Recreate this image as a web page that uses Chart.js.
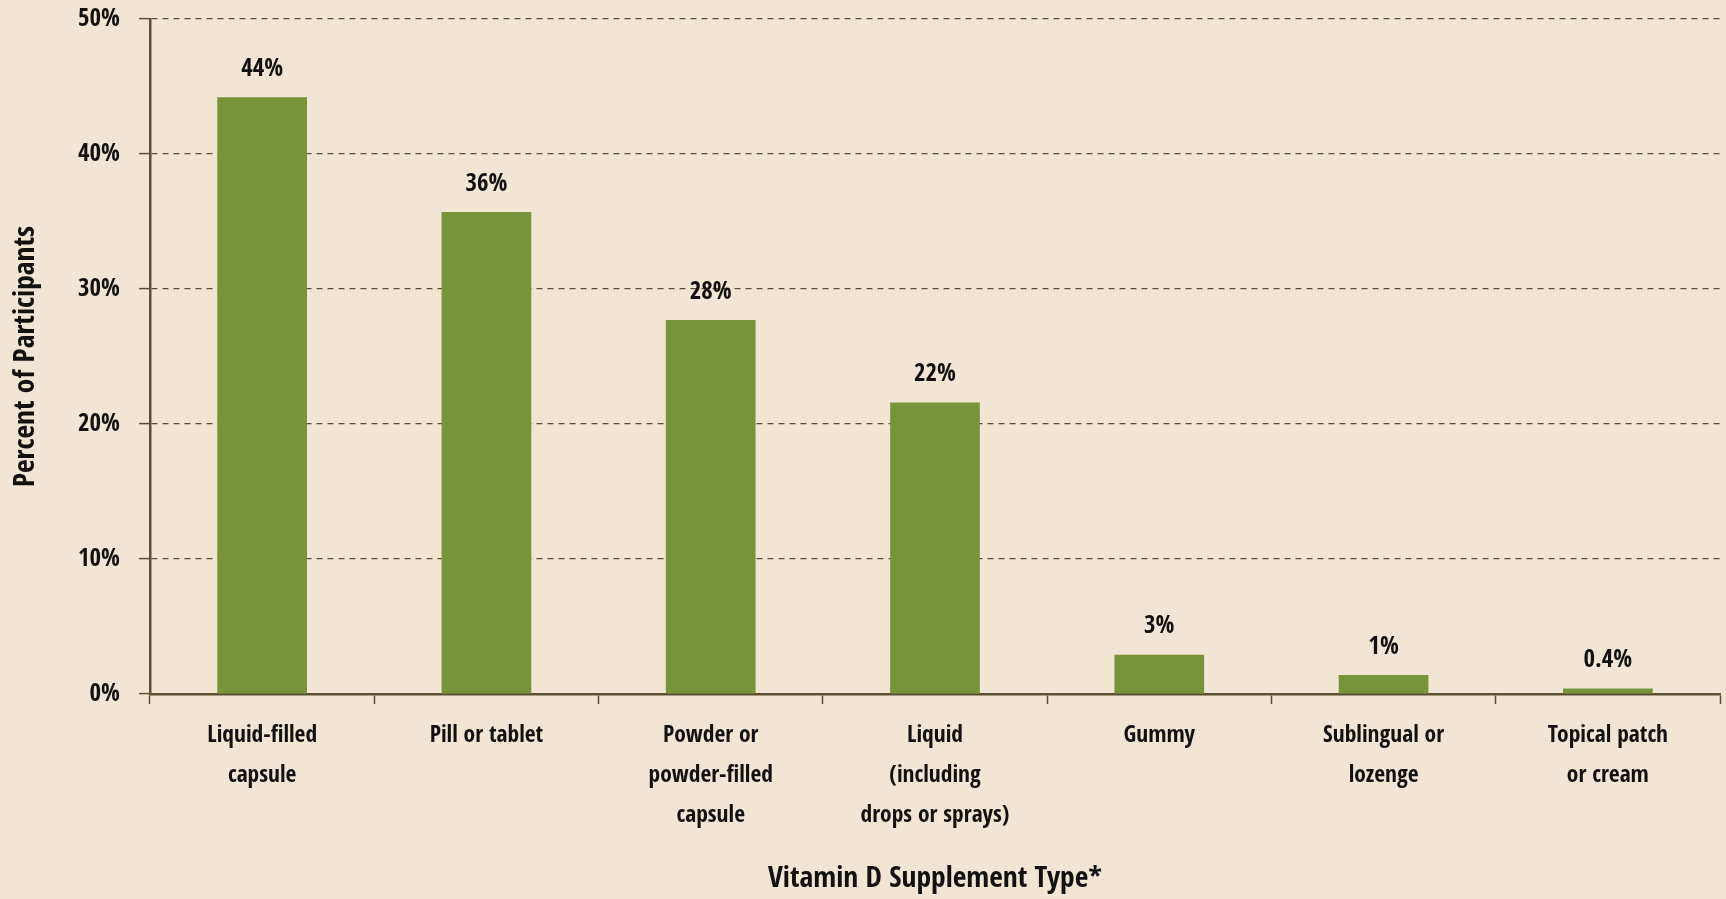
<!DOCTYPE html>
<html>
<head>
<meta charset="utf-8">
<script src="https://cdn.jsdelivr.net/npm/chart.js@4.4.1/dist/chart.umd.min.js"></script>
<style>
  html, body { margin: 0; padding: 0; background: #f1e6d3; }
  #wrap { width: 1726px; height: 899px; position: relative; }
</style>
</head>
<body>
<div id="wrap"><canvas id="c"></canvas></div>
<script>
const categories = [
  ["Liquid-filled", "capsule"],
  ["Pill or tablet"],
  ["Powder or", "powder-filled", "capsule"],
  ["Liquid", "(including", "drops or sprays)"],
  ["Gummy"],
  ["Sublingual or", "lozenge"],
  ["Topical patch", "or cream"]
];
const percentValues = [44.2, 35.7, 27.7, 21.6, 2.9, 1.4, 0.4];
const valueLabels = ["44%", "36%", "28%", "22%", "3%", "1%", "0.4%"];
const yTickValues = [0, 10, 20, 30, 40, 50];
const xAxisTitle = "Vitamin D Supplement Type*";
const yAxisTitle = "Percent of Participants";

const AXIS_COLOR = '#5a5132';

// pick the narrowest available condensed bold face
const mctx = document.createElement('canvas').getContext('2d');
function w(font, txt) { mctx.font = font; return mctx.measureText(txt).width; }
const SAMPLE = 'Liquid-filled capsule 44%';
function hasFamily(fam) {
  return Math.abs(w('bold 100px ' + fam + ', monospace', SAMPLE) - w('bold 100px monospace', SAMPLE)) > 1;
}
let FAMILY = '"DejaVu Sans"', WEIGHT = 'bold condensed';
const candidates = [
  { fam: '"Roboto Condensed"', weight: 'bold' },
  { fam: '"Liberation Sans Narrow"', weight: 'bold' },
  { fam: '"Open Sans Condensed"', weight: 'bold' },
  { fam: '"Noto Sans"', weight: 'bold extra-condensed' },
  { fam: 'Roboto', weight: 'bold condensed' },
  { fam: '"Open Sans"', weight: '800 condensed' },
  { fam: '"DejaVu Sans"', weight: 'bold condensed' }
];
let best = null;
for (const c of candidates) {
  if (!hasFamily(c.fam)) continue;
  const width = w(c.weight + ' 100px ' + c.fam, SAMPLE);
  if (!best || width < best.width - 1) best = { ...c, width };
}
if (best) { FAMILY = best.fam; WEIGHT = best.weight; }

// size the text so that its width matches the reference
function fitSize(txt, target, maxSize) {
  const per100 = w(WEIGHT + ' 100px ' + FAMILY, txt);
  return Math.min(maxSize, Math.round(100 * target / per100 * 10) / 10);
}
const tickSize = fitSize('Liquid-filled', 110, 30);
const valueSize = fitSize('44%', 42, 31);
const titleSize = fitSize(xAxisTitle, 334, 40);
const FULL = FAMILY + ', sans-serif';

const valueLabelPlugin = {
  id: 'valueLabels',
  afterDatasetsDraw(chart) {
    const ctx = chart.ctx;
    const meta = chart.getDatasetMeta(0);
    ctx.save();
    ctx.font = WEIGHT + ' ' + valueSize + 'px ' + FULL;
    ctx.fillStyle = '#111';
    ctx.textAlign = 'center';
    ctx.textBaseline = 'middle';
    meta.data.forEach((bar, i) => {
      ctx.fillText(valueLabels[i], bar.x, bar.y - 28);
    });
    ctx.restore();
  }
};

new Chart(document.getElementById('c'), {
  type: 'bar',
  data: {
    labels: categories,
    datasets: [{
      data: percentValues,
      backgroundColor: '#79933b',
      borderWidth: 0,
      categoryPercentage: 1.0,
      barPercentage: 0.4
    }]
  },
  options: {
    responsive: true,
    maintainAspectRatio: false,
    animation: false,
    layout: { padding: { top: 19, right: 6, left: 0, bottom: 0 } },
    plugins: { legend: { display: false }, tooltip: { enabled: false } },
    scales: {
      x: {
        offset: true,
        border: { display: true, color: AXIS_COLOR, width: 2.5 },
        grid: {
          display: true,
          offset: true,
          drawOnChartArea: false,
          drawTicks: true,
          tickLength: 10,
          tickColor: AXIS_COLOR,
          tickWidth: 1.5,
          color: AXIS_COLOR
        },
        ticks: {
          color: '#111',
          font: { family: FULL, weight: WEIGHT, size: tickSize, lineHeight: '40px' },
          padding: 12,
          maxRotation: 0,
          autoSkip: false
        },
        title: {
          display: true,
          text: xAxisTitle,
          color: '#111',
          font: { family: FULL, weight: WEIGHT, size: titleSize, lineHeight: 1 },
          padding: { top: 0, bottom: 5 }
        },
        afterFit(scale) { scale.height = 205; }
      },
      y: {
        min: 0,
        max: 50,
        border: { display: true, color: AXIS_COLOR, width: 2.5, dash: [6, 5] },
        grid: {
          color: AXIS_COLOR,
          lineWidth: 1.2,
          drawTicks: true,
          tickLength: 11,
          tickColor: AXIS_COLOR,
          tickWidth: 1.5,
          tickBorderDash: []
        },
        afterBuildTicks(scale) {
          scale.ticks = yTickValues.map(v => ({ value: v }));
        },
        ticks: {
          color: '#111',
          font: { family: FULL, weight: WEIGHT, size: valueSize },
          padding: 19,
          callback: v => v + '%'
        },
        title: {
          display: true,
          text: yAxisTitle,
          color: '#111',
          font: { family: FULL, weight: WEIGHT, size: titleSize, lineHeight: 1 },
          padding: { top: 12, bottom: 0 }
        },
        afterFit(scale) {
          scale.width = 150;
          scale.paddingTop = 0;
          scale.paddingBottom = 0;
        }
      }
    }
  },
  plugins: [valueLabelPlugin]
});
</script>
</body>
</html>
